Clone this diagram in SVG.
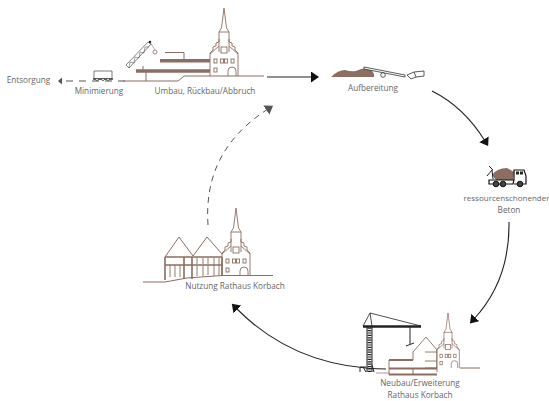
<svg xmlns="http://www.w3.org/2000/svg" width="549" height="401" viewBox="0 0 549 401">
<style>
text{font-family:"Open Sans","Noto Sans",sans-serif;font-size:8.2px;fill:#666;text-anchor:middle}
.s{font-size:8px}
.b{fill:none;stroke:#8c6d5f;stroke-width:1}
.t{fill:none;stroke:#8c6d5f;stroke-width:3}
.k{fill:none;stroke:#222;stroke-width:1}
.g{fill:none;stroke:#555;stroke-width:1;stroke-dasharray:6 5}
.c{fill:none;stroke:#222;stroke-width:1.1}
</style>
<defs>
<marker id="ah" markerWidth="10" markerHeight="11" refX="2" refY="5.500" orient="auto" markerUnits="userSpaceOnUse" viewBox="0 0 10 11"><path d="M0 0L8 5.500L0 11Z" fill="#111"/></marker>
<marker id="ag" markerWidth="10" markerHeight="11" refX="2" refY="5.500" orient="auto" markerUnits="userSpaceOnUse" viewBox="0 0 10 11"><path d="M0 0L8 5.500L0 11Z" fill="#555"/></marker>
<g id="church" fill="none" stroke="#8c6d5f" stroke-width="0.9">
<path d="M0 -68L2.500 -48L5 -44V-24M0 -68L-2.500 -48L-5 -44V-24M-5 -44H5"/>
<path d="M-14 -23L-11 -26V-29L-8 -30V-33L-5 -34V-37M14 -23L11 -26V-29L8 -30V-33L5 -34V-37"/>
<path d="M-14 -23V0M14 -23V0M-14 -22L-5 -30M14 -22L5 -30"/>
<rect x="-3" y="-29" width="6" height="6"/>
<rect x="-10" y="-17" width="3" height="4"/><rect x="-3.500" y="-17" width="3" height="4"/><rect x="0.500" y="-17" width="3" height="4"/><rect x="7" y="-17" width="3" height="4"/><rect x="-10" y="-8" width="3" height="4"/>
<path d="M4 0V-5A4 4 0 0 1 12 -5V0"/>
</g>
</defs>
<g id="connectors">
<path d="M62 77.500L58 81L62 84.500Z" fill="#555"/>
<path class="g" d="M66 81H128" style="stroke-dasharray:7 6"/>
<path class="c" d="M267 77H313" marker-end="url(#ah)" style="stroke-width:1.200"/>
<path class="c" d="M432 91Q464 107 485 141" marker-end="url(#ah)"/>
<path class="c" d="M509 222Q510 280 474 319" marker-end="url(#ah)"/>
<path class="c" d="M386 369Q295 368 236 308" marker-end="url(#ah)"/>
<path class="g" d="M208 225C205 180 220 140 268 109" marker-end="url(#ag)"/>
</g>
<g id="entsorgung"><text x="28.500" y="83">Entsorgung</text></g>
<g id="minimierung">
<path d="M94 71H112V79H94Z" fill="#fff" stroke="#444" stroke-width="0.7"/>
<path d="M93 79H113" stroke="#222" stroke-width="1.200"/><circle cx="97" cy="79.500" r="1.200" fill="#fff" stroke="#222" stroke-width="0.6"/><circle cx="103" cy="79.500" r="1.200" fill="#fff" stroke="#222" stroke-width="0.6"/><circle cx="108" cy="79.500" r="1.200" fill="#fff" stroke="#222" stroke-width="0.6"/>
<text x="99" y="94">Minimierung</text>
</g>
<g id="umbau">
<path d="M126 65L148 42L151 44L129 68Z" fill="#fff" stroke="#333" stroke-width="0.6"/>
<path d="M129 68L130 62L134 63L135 57L139 58L140 52L144 53L145 47L149 47" fill="none" stroke="#444" stroke-width="0.5"/>
<circle cx="150" cy="42" r="1.200" fill="#111"/>
<path d="M150 42L155 50" stroke="#8c6d5f" stroke-width="0.6"/><circle cx="155" cy="52" r="2" fill="none" stroke="#8c6d5f" stroke-width="0.8"/>
<path class="b" d="M165 52.500H184V62"/>
<path class="t" d="M160 60.700H210M136 71H210" style="stroke-width:3.500"/>
<path class="b" d="M143 71V66M146 72V81M123 81H178L184 76H264"/>
<use href="#church" x="224" y="76"/>
<text x="205" y="94">Umbau, Rückbau/Abbruch</text>
</g>
<g id="aufbereitung">
<path d="M331 77Q338 70 345 70Q351 72 356 71Q364 67 370 69Q375 73 374 77Z" fill="#8c6d5f"/>
<path d="M364 67L405 75L405 77L364 69Z" fill="#fff" stroke="#333" stroke-width="0.8"/>
<circle cx="383" cy="75" r="2.300" fill="#fff" stroke="#333" stroke-width="0.8"/>
<path d="M407 75L414 72L416 77L411 79ZM414 72L424 71L424 76L416 77" fill="none" stroke="#333" stroke-width="0.8"/>
<text x="373" y="91">Aufbereitung</text>
</g>
<g id="beton">
<path d="M492 175Q497 168 507 168L514 172L513 180H496Z" fill="#8c6d5f"/>
<path d="M489 166L493 170M487 176L492 170L493 179" fill="none" stroke="#222" stroke-width="1"/>
<path d="M513 184H489V180H514ZM514 180V170H524L526 176V184H514" fill="#fff" stroke="#111" stroke-width="1.200"/>
<rect x="516" y="171.500" width="3" height="3" fill="#222"/><rect x="520" y="171.500" width="3" height="3" fill="#222"/>
<circle cx="496" cy="184" r="2.800" fill="#444" stroke="#111"/><circle cx="503" cy="184" r="2.800" fill="#444" stroke="#111"/><circle cx="520" cy="184" r="2.800" fill="#444" stroke="#111"/>
<text class="s" x="506.500" y="201">ressourcenschonender</text>
<text x="509" y="213">Beton</text>
</g>
<g id="neubau">
<path d="M367 372V326M372 372V326" fill="none" stroke="#222" stroke-width="1"/>
<path d="M369.500 372V326" fill="none" stroke="#222" stroke-width="4" stroke-dasharray="1.200 1.200"/>
<path d="M363 326.500H421" stroke="#222" stroke-width="2.500"/>
<path d="M363 326L370 313L421 326M370 313L372 326" fill="none" stroke="#222" stroke-width="0.8"/>
<path d="M410 327V344M406 346L414 343" fill="none" stroke="#222" stroke-width="1"/>
<path d="M360 372V367H366M366 372L363 367M374 372L372 365" fill="none" stroke="#222" stroke-width="1"/>
<path class="b" d="M376 373H390" style="stroke-opacity:.7"/>
<path class="b" d="M389 375V360M413 360V352L426 337L437 350V372M425 352H437M425 361H437M425 368H437" style="stroke-width:0.9"/>
<path d="M389 360H413M389 368.500H437M389 374.500H437" fill="none" stroke="#8c6d5f" stroke-width="1.800"/>
<path d="M413 369V375" class="b"/>
<g transform="translate(448 368) scale(.81)"><use href="#church"/></g>
<path class="b" d="M460 368H480"/>
<text x="420" y="386">Neubau/Erweiterung</text>
<text x="420" y="398">Rathaus Korbach</text>
</g>
<g id="nutzung">
<path class="b" d="M143 282H165L187 278L222 275.500H273"/>
<path class="b" d="M165 257L179 237L193 256L207 237L222 254"/>
<path d="M165 257H222M165 265H222M165 280V257M184 257V279M192 257V279M222 257V276" fill="none" stroke="#8c6d5f" stroke-width="1.600"/>
<path d="M170 265V277M175 265V277M180 265V277M197 265V276M203 265V276M208 265V275M214 258V276M219 258V276M197 258V264M203 258V264M208 258V264" fill="none" stroke="#8c6d5f" stroke-width="0.9"/>
<use href="#church" x="236" y="276"/>
<text x="235" y="289">Nutzung Rathaus Korbach</text>
</g>
</svg>
